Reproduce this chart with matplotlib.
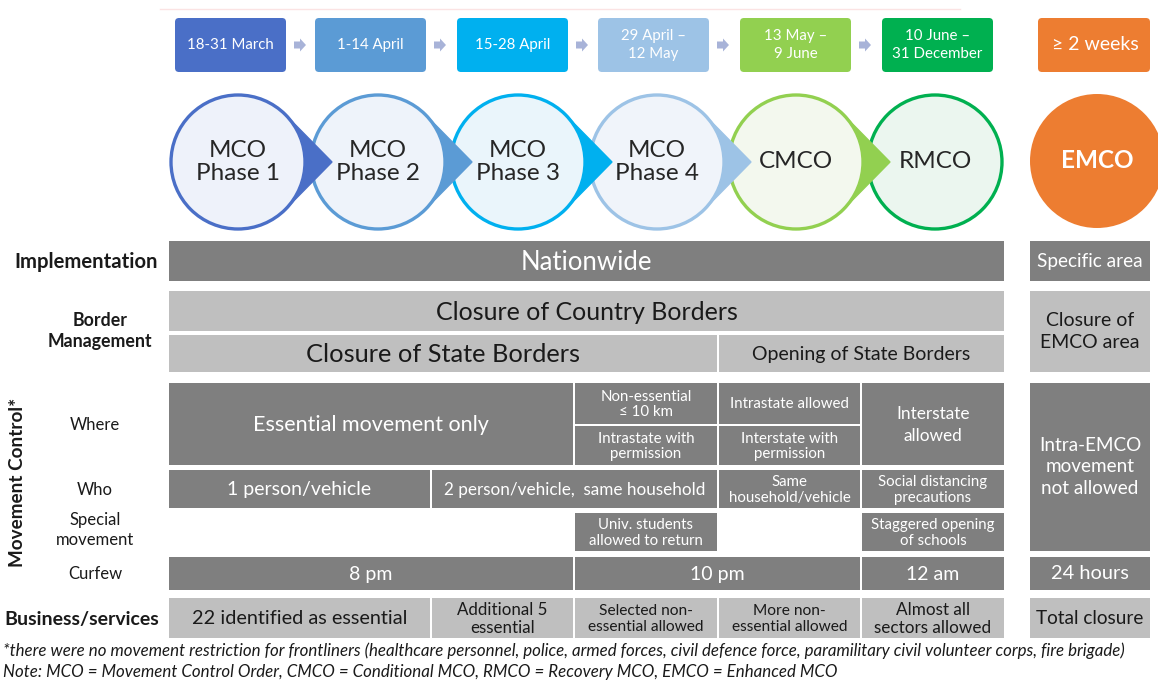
import numpy as np
import matplotlib
matplotlib.use("Agg")
import matplotlib.pyplot as plt
from matplotlib.patches import Rectangle, Circle, Polygon, FancyBboxPatch, FancyArrow

plt.rcParams['font.family'] = ['Lato', 'DejaVu Sans']

# --- content ---
date_labels = ["18-31 March", "1-14 April", "15-28 April", "29 April –\n12 May",
               "13 May –\n9 June", "10 June –\n31 December"]
phase_labels = ["MCO\nPhase 1", "MCO\nPhase 2", "MCO\nPhase 3", "MCO\nPhase 4", "CMCO", "RMCO"]
phase_colors = ["#4a6fc7", "#5b9bd5", "#00b0ef", "#9dc3e6", "#92d050", "#00b050"]
phase_fills = ["#eef2fa", "#eef3fa", "#eaf5fb", "#f0f4fa", "#f3f8ee", "#ebf6ef"]
emco_date = "≥ 2 weeks"
emco_label = "EMCO"
emco_color = "#ed7d31"

row_labels = ["Implementation", "Border\nManagement", "Where", "Who", "Special\nmovement",
              "Curfew", "Business/services"]

# cells: (text, first column, last column)
impl_cells = [("Nationwide", 0, 5)]
border1_cells = [("Closure of Country Borders", 0, 5)]
border2_cells = [("Closure of State Borders", 0, 3), ("Opening of State Borders", 3, 5)]
where_full = [("Essential movement only", 0, 2), ("Interstate\nallowed", 4, 5)]
where_top = [("Non-essential\n≤ 10 km", 2, 3), ("Intrastate allowed", 3, 4)]
where_bot = [("Intrastate with\npermission", 2, 3), ("Interstate with\npermission", 3, 4)]
who_cells = [("1 person/vehicle", 0, 1), ("2 person/vehicle,  same household", 1, 3),
             ("Same\nhousehold/vehicle", 3, 4), ("Social distancing\nprecautions", 4, 5)]
special_cells = [("Univ. students\nallowed to return", 2, 3), ("Staggered opening\nof schools", 4, 5)]
curfew_cells = [("8 pm", 0, 2), ("10 pm", 2, 4), ("12 am", 4, 5)]
business_cells = [("22 identified as essential", 0, 1), ("Additional 5\nessential", 1, 2),
                  ("Selected non-\nessential allowed", 2, 3), ("More non-\nessential allowed", 3, 4),
                  ("Almost all\nsectors allowed", 4, 5)]
emco_cells = ["Specific area", "Closure of\nEMCO area", "Intra-EMCO\nmovement\nnot allowed",
              "24 hours", "Total closure"]

note1 = ("*there were no movement restriction for frontliners (healthcare personnel, police, armed forces, "
         "civil defence force, paramilitary civil volunteer corps, fire brigade)")
note2 = "Note: MCO = Movement Control Order, CMCO = Conditional MCO, RMCO = Recovery MCO, EMCO = Enhanced MCO"

# --- layout (pixels) ---
col_x = [168, 431, 574, 718, 861, 1005]
emco_x = (1030, 1150)
dark = "#7f7f7f"
light = "#bfbfbf"
ink = "#1a1a1a"

fig = plt.figure(figsize=(11.58, 6.82), dpi=100)
ax = fig.add_axes([0, 0, 1, 1])
ax.set_xlim(0, 1158)
ax.set_ylim(682, 0)
ax.axis('off')

# faint line at the top
ax.plot([160, 960], [9, 9], color="#fbe3e3", lw=1)

# date boxes
box_x = [175, 315, 457, 598, 740, 882]
box_w = 111
for i, (lab, c) in enumerate(zip(date_labels, phase_colors)):
    ax.add_patch(FancyBboxPatch((box_x[i], 18), box_w, 54, boxstyle="round,pad=0,rounding_size=4",
                                fc=c, ec="none"))
    ax.text(box_x[i] + box_w / 2, 45, lab, color="white", fontsize=10.8, ha="center", va="center",
            linespacing=1.35)
    if i < len(date_labels) - 1:
        ax.add_patch(FancyArrow(box_x[i] + box_w + 8, 45, 6, 0, width=7, head_width=13, head_length=6,
                                fc="#a8b3d8", ec="none"))
ax.add_patch(FancyBboxPatch((1038, 18), 112, 54, boxstyle="round,pad=0,rounding_size=4",
                            fc=emco_color, ec="none"))
ax.text(1095, 45, emco_date, color="white", fontsize=14, ha="center", va="center")

# circles
cx = [238, 378, 518, 657, 796, 935]
cy = 162
r = 67
for i in range(len(phase_labels)):
    ax.add_patch(Circle((cx[i], cy), r, fc=phase_fills[i], ec=phase_colors[i], lw=2.4, zorder=2))
# pointers of the circles
tip = 27
d = r + tip
th = np.arccos(r / d)
for i in range(len(phase_labels) - 1):
    arc = np.linspace(-th, th, 30)
    pts = [(cx[i] + d, cy)]
    pts += [(cx[i] + r * np.cos(a), cy + r * np.sin(a)) for a in arc]
    ax.add_patch(Polygon(pts, closed=True, fc=phase_colors[i], ec=phase_colors[i], lw=1, zorder=3))
for i, lab in enumerate(phase_labels):
    ax.text(cx[i], cy, lab, fontsize=17.5, ha="center", va="center", color="#262626",
            linespacing=1.1, zorder=4)
ax.add_patch(Circle((1097, 161), 67, fc=emco_color, ec="none"))
ax.text(1097, 161, emco_label, fontsize=17.5, ha="center", va="center", color="white", weight="bold")


def cells(items, y0, y1, fc, tc, fs, ls=1.25):
    for txt, a, b in items:
        ax.add_patch(Rectangle((col_x[a] + 1, y0), col_x[b] - col_x[a] - 2, y1 - y0, fc=fc, ec="none"))
        ax.text((col_x[a] + col_x[b]) / 2, (y0 + y1) / 2 + 1, txt, color=tc, fontsize=fs,
                ha="center", va="center", linespacing=ls)


cells(impl_cells, 241, 281, dark, "white", 18.5)
cells(border1_cells, 291, 331, light, ink, 18)
cells(border2_cells[:1], 335, 372, light, ink, 18.3)
cells(border2_cells[1:], 335, 372, light, ink, 14)
cells(where_full[:1], 383, 465, dark, "white", 15.5)
cells(where_full[1:], 383, 465, dark, "white", 12.4, 1.5)
cells(where_top, 383, 424, dark, "white", 10.8, 1.15)
cells(where_bot, 426, 465, dark, "white", 10.8, 1.15)
cells(who_cells[:1], 470, 508, dark, "white", 14)
cells(who_cells[1:2], 470, 508, dark, "white", 12.3)
cells(who_cells[2:], 470, 508, dark, "white", 10.8, 1.15)
cells(special_cells, 513, 551, dark, "white", 10.8, 1.15)
cells(curfew_cells, 557, 590, dark, "white", 14)
cells(business_cells[:1], 598, 638, light, ink, 14.3)
cells(business_cells[1:2], 598, 638, light, ink, 12.2, 1.15)
cells(business_cells[2:4], 598, 638, light, ink, 11.2, 1.15)
cells(business_cells[4:], 598, 638, light, ink, 12.3, 1.15)

# EMCO column
emco_rows = [(241, 281, dark, "white", 13.7), (291, 372, light, ink, 14),
             (383, 551, dark, "white", 13.6), (557, 590, dark, "white", 14.4),
             (598, 638, light, ink, 13.7)]
for txt, (y0, y1, fc, tc, fs) in zip(emco_cells, emco_rows):
    ax.add_patch(Rectangle((emco_x[0], y0), emco_x[1] - emco_x[0], y1 - y0, fc=fc, ec="none"))
    ax.text(sum(emco_x) / 2, (y0 + y1) / 2, txt, color=tc, fontsize=fs, ha="center", va="center",
            linespacing=1.3)

# row labels
label_pos = [(86, 262, True, 14.6), (100, 331, True, 12.8), (95, 425, False, 12),
             (95, 490, False, 12), (95, 530, False, 12), (95, 574, False, 12), (82, 619, True, 14)]
for txt, (x, y, b, fs) in zip(row_labels, label_pos):
    ax.text(x, y, txt, fontsize=fs, ha="center", va="center", color=ink,
            weight="bold" if b else "normal", linespacing=1.35)
ax.text(18, 482, "Movement Control*", rotation=90, fontsize=13.6, weight="bold", ha="center",
        va="center", color=ink)

# notes
ax.text(3, 651, note1, fontsize=12.2, style="italic", ha="left", va="center", color=ink)
ax.text(3, 672, note2, fontsize=12.2, style="italic", ha="left", va="center", color=ink)

fig.savefig("out.png", dpi=100, facecolor="white")
